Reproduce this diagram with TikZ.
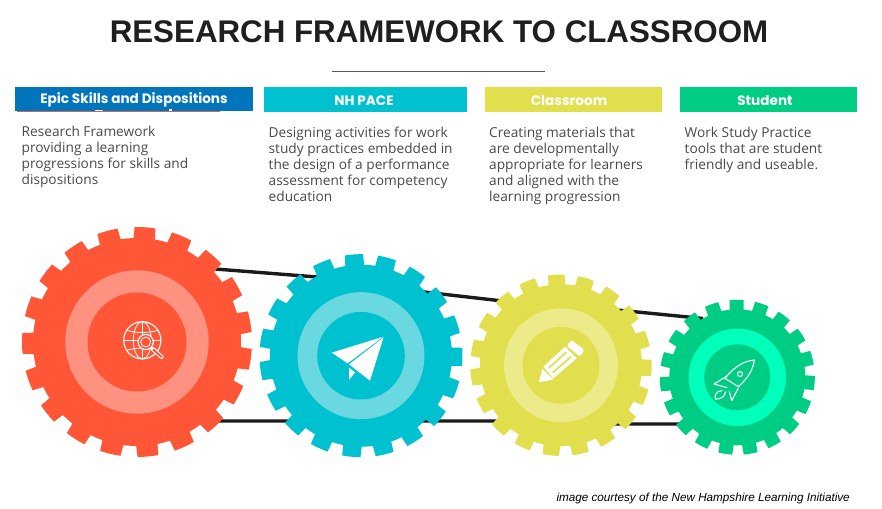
\documentclass[tikz,border=0pt]{standalone}
\usepackage{fontspec}
\setmainfont{Open Sans}
\newfontfamily\hdfont{Poppins}
\newfontfamily\arialfont{Liberation Sans}
\definecolor{cRed}{HTML}{FF5637}
\definecolor{cRedR}{HTML}{FF9180}
\definecolor{cTeal}{HTML}{00C1CF}
\definecolor{cTealR}{HTML}{6AD8E0}
\definecolor{cYel}{HTML}{E1DF4E}
\definecolor{cYelR}{HTML}{EDEA8A}
\definecolor{cGrn}{HTML}{00CD84}
\definecolor{cGrnR}{HTML}{00FFBB}
\definecolor{cBlue}{HTML}{0075BC}
\definecolor{cBelt}{HTML}{1A1A1A}
\definecolor{cBody}{HTML}{4A4A4A}
\tikzset{
  x=1pt,y=1pt,
  hdtext/.style={font=\hdfont\bfseries\fontsize{13.6}{16}\selectfont,text=white,inner sep=0pt,anchor=base},
  bodytext/.style={font=\fontsize{13.7}{16}\selectfont,text=cBody,inner sep=0pt,anchor=north west,align=left},
  belt/.style={draw=cBelt,line width=3.4pt,line join=round},
  gearbody/.style={circle,inner sep=0pt,draw=none},
  iconline/.style={draw=white,line width=1.1pt,line join=round,line cap=round},
}
% #1 name, #2 cx, #3 cy (pixels from top), #4 R, #5 r, #6 ring outer, #7 ring inner, #8 start angle, #9 colour suffix
\newcommand{\gearshape}[9]{%
  \begin{scope}[shift={(#2,508-#3)}]
    \foreach \k in {0,...,18}{
      \pgfmathsetmacro{\a}{#8+\k*360/19}
      \fill[c#9] (\a-6:#5-1) -- (\a-5.2:#4) -- (\a-2.5:#4) -- (\a:#4) -- (\a+2.5:#4) -- (\a+5.2:#4) -- (\a+6:#5-1) -- cycle;
    }
  \end{scope}
  \node[gearbody,fill=c#9,minimum size=2*#5] (#1) at (#2,508-#3) {};
  \node[gearbody,fill=c#9R,minimum size=2*#6] (#1ring) at (#2,508-#3) {};
  \node[gearbody,fill=c#9,minimum size=2*#7] (#1hub) at (#2,508-#3) {};
}
\begin{document}
\begin{tikzpicture}
\useasboundingbox (0,0) rectangle (882,508);
\fill[white] (0,0) rectangle (882,508);
% title
\node[font=\arialfont\bfseries\fontsize{31.3}{36}\selectfont,text=black!88,inner sep=0pt,anchor=base] (title) at (439,508-43) {RESEARCH FRAMEWORK TO CLASSROOM};
\coordinate (ruleL) at (332,508-71.5);
\coordinate (ruleR) at (545,508-71.5);
\draw[black!65,line width=0.9pt] (ruleL) -- (ruleR);
% headers
\fill[cBlue] (15,508-111.3) rectangle (253,508-87);
\fill[cTeal] (263.7,508-112.3) rectangle (466.7,508-87.3);
\fill[cYel] (484.5,508-112.3) rectangle (662,508-87.3);
\fill[cGrn] (679.5,508-112.3) rectangle (857.3,508-87.3);
\fill[cRed!60!gray] (17,508-111.5) rectangle (220,508-110.8);
\fill[white] (95,508-111.3) rectangle (103,508-109.6);
\fill[white] (168.5,508-111.3) rectangle (171.5,508-109.2);
\node[hdtext] (h1) at (134,508-104) {Epic Skills and Dispositions};
\node[hdtext] (h2) at (364,508-106) {NH PACE};
\node[hdtext] (h3) at (569,508-106) {Classroom};
\node[hdtext] (h4) at (765,508-106) {Student};
% body text
\node[bodytext] (t1) at (21.5,508-126) {Research Framework\\providing a learning\\progressions for skills and\\dispositions};
\node[bodytext] (t2) at (268.5,508-127) {Designing activities for work\\study practices embedded in\\the design of a performance\\assessment for competency\\education};
\node[bodytext] (t3) at (489,508-127) {Creating materials that\\are developmentally\\appropriate for learners\\and aligned with the\\learning progression};
\node[bodytext] (t4) at (684.5,508-127) {Work Study Practice\\tools that are student\\friendly and useable.};
% credit
\node[font=\arialfont\itshape\fontsize{11.7}{13}\selectfont,text=black,inner sep=0pt,anchor=base east] (credit) at (850,508-501) {image courtesy of the New Hampshire Learning Initiative};
% belts
\coordinate (u1) at (205,508-268.2);
\coordinate (u2) at (317,508-277);
\coordinate (u3) at (428,508-292.5);
\coordinate (u4) at (498,508-300.5);
\coordinate (u5) at (622,508-310.5);
\coordinate (u6) at (703,508-318.5);
\coordinate (l1) at (215,508-421);
\coordinate (l2) at (470,508-421);
\coordinate (l3) at (495,508-421);
\coordinate (l4) at (618,508-424);
\coordinate (l5) at (685,508-424);
\draw[belt] (u1) -- (u2) -- (u3) -- (u4) -- (u5) -- (u6);
\draw[belt] (l1) -- (l2) -- (l3) -- (l4) -- (l5);
% gears
\gearshape{gA}{137}{342}{115}{104}{71.7}{49.5}{86}{Red}
\gearshape{gB}{361}{355.7}{101.5}{91}{63.5}{43.8}{94}{Teal}
\gearshape{gC}{561}{365.3}{90.7}{81}{57}{38.5}{93}{Yel}
\gearshape{gD}{737.3}{377.3}{77.5}{68}{48.7}{33}{90.5}{Grn}
% globe icon
\begin{scope}[shift={(142.3,508-340.3)}]
  \draw[iconline] (0,0) circle[radius=18.6];
  \draw[iconline,line width=0.8pt] (0,0) ellipse[x radius=9,y radius=18.6];
  \draw[iconline,line width=0.8pt] (0,18.6) -- (0,-18.6);
  \draw[iconline,line width=0.8pt] (-18.6,0) -- (18.6,0);
  \draw[iconline,line width=0.8pt] (-15.5,10) .. controls (-6,7) and (6,7) .. (15.5,10);
  \draw[iconline,line width=0.8pt] (-15.5,-10) .. controls (-6,-7) and (6,-7) .. (15.5,-10);
  \draw[iconline,fill=cRed] (3.4,-1.7) circle[radius=7.6];
  \draw[iconline,line width=0.8pt] (3.4,-1.7) circle[radius=5];
  \draw[white,line width=4.2pt,line cap=round] (10.5,-8.8) -- (19.3,-16.6);
  \draw[cRed,line width=2pt,line cap=round] (11,-9.3) -- (19.3,-16.6);
\end{scope}
% paper plane icon
\fill[white] (383.3,508-336.7) -- (331.7,508-352.7) -- (347.7,508-363.3) -- cycle;
\fill[white] (383.5,508-337.5) -- (349,508-364.3) -- (370,508-380.7) -- cycle;
\fill[white] (349,508-367.7) -- (349,508-380) -- (355,508-372.3) -- cycle;
% pencil icon
\fill[white] (565,508-346.7) -- (576.7,508-358.3) -- (553.3,508-378.3) -- (543.3,508-366.7) -- cycle;
\draw[cYel,line width=1.7pt] (548.5,508-368.2) -- (566.3,508-352.2);
\draw[cYel,line width=1.7pt] (552.6,508-372.8) -- (570.9,508-356.8);
\fill[white,rounded corners=1.5pt] (571.7,508-340) -- (584.3,508-350) -- (580,508-356.7) -- (566.7,508-345.7) -- cycle;
\fill[white] (542.3,508-368.8) -- (553.3,508-379.5) -- (539,508-382.3) -- cycle;
% rocket icon
\draw[iconline] (754.3,508-360) .. controls (744,508-361) and (735,508-366) .. (725,508-378.3) -- (738.3,508-386.7) .. controls (748,508-378) and (753,508-370) .. cycle;
\draw[iconline] (740,508-374) circle[radius=2.5];
\draw[iconline] (727,508-376) -- (714,508-384) -- (727,508-387.7);
\draw[iconline] (738.3,508-388) -- (731.7,508-400.7) -- (729.3,508-391.7);
\draw[iconline] (722,508-390.5) .. controls (716,508-391) and (714,508-396) .. (715.5,508-399) .. controls (720,508-399.5) and (725,508-397) .. (725.5,508-392);
\end{tikzpicture}
\end{document}
